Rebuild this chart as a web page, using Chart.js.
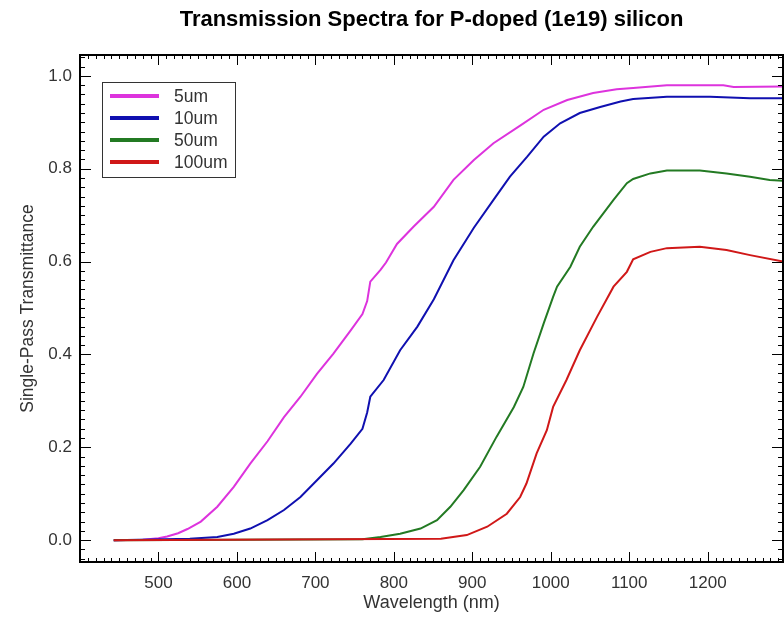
<!DOCTYPE html>
<html><head><meta charset="utf-8">
<script src="https://cdn.jsdelivr.net/npm/chart.js@4.4.0/dist/chart.umd.min.js"></script>
<style>html,body{margin:0;padding:0;background:#fff}#wrap{width:784px;height:624px}</style>
</head><body><div id="wrap"><canvas id="c" width="784" height="624"></canvas></div>
<script>
const titleText = 'Transmission Spectra for P-doped (1e19) silicon';
const xTitle = 'Wavelength (nm)';
const yTitle = 'Single-Pass Transmittance';
const seriesLabels = ['5um', '10um', '50um', '100um'];
const seriesColors = ['#dd33dd', '#1010b0', '#237a23', '#d01818'];

const wl5 = [443, 480, 500, 511, 525, 537, 554, 575, 596, 617, 639, 660, 681, 702, 723, 745, 760, 766, 770, 783, 790, 804, 825, 851, 876, 902, 927, 961, 991, 1021, 1054, 1084, 1105, 1148, 1220, 1233, 1296];
const t5 = [0, 0.001, 0.004, 0.008, 0.015, 0.024, 0.040, 0.072, 0.115, 0.165, 0.213, 0.265, 0.309, 0.358, 0.402, 0.452, 0.487, 0.515, 0.557, 0.582, 0.598, 0.638, 0.675, 0.718, 0.776, 0.819, 0.855, 0.893, 0.927, 0.948, 0.963, 0.971, 0.974, 0.980, 0.980, 0.976, 0.977];

const wl10 = [443, 540, 575, 596, 617, 639, 660, 681, 702, 723, 745, 760, 766, 770, 787, 808, 830, 851, 876, 902, 927, 948, 970, 991, 1012, 1037, 1063, 1089, 1105, 1148, 1203, 1254, 1296];
const t10 = [0, 0.003, 0.007, 0.014, 0.025, 0.043, 0.065, 0.093, 0.129, 0.165, 0.208, 0.240, 0.275, 0.309, 0.345, 0.409, 0.460, 0.519, 0.603, 0.673, 0.733, 0.783, 0.826, 0.869, 0.898, 0.920, 0.933, 0.945, 0.950, 0.955, 0.955, 0.952, 0.952];

const wl50 = [443, 760, 783, 808, 834, 855, 872, 889, 910, 931, 953, 965, 978, 991, 1003, 1008, 1025, 1037, 1054, 1080, 1097, 1105, 1127, 1148, 1190, 1224, 1254, 1279, 1296];
const t50 = [0, 0.002, 0.007, 0.014, 0.025, 0.043, 0.072, 0.108, 0.158, 0.223, 0.287, 0.330, 0.402, 0.467, 0.524, 0.546, 0.589, 0.632, 0.675, 0.733, 0.769, 0.778, 0.790, 0.796, 0.796, 0.790, 0.783, 0.776, 0.774];

const wl100 = [443, 860, 893, 919, 944, 961, 969, 982, 995, 1003, 1020, 1037, 1059, 1080, 1097, 1105, 1127, 1148, 1190, 1224, 1254, 1296];
const t100 = [0, 0.003, 0.011, 0.029, 0.057, 0.093, 0.122, 0.187, 0.237, 0.287, 0.345, 0.409, 0.481, 0.546, 0.578, 0.605, 0.621, 0.629, 0.632, 0.625, 0.614, 0.600];

const xTickValues = [500, 600, 700, 800, 900, 1000, 1100, 1200];
const yTickValues = [0, 0.2, 0.4, 0.6, 0.8, 1.0];

const wls = [wl5, wl10, wl50, wl100];
const ts = [t5, t10, t50, t100];
const FONT = '"Liberation Sans", Arial, sans-serif';

const datasets = seriesLabels.map((lab, i) => ({
  label: lab,
  data: wls[i].map((w, j) => ({x: w, y: ts[i][j]})),
  borderColor: seriesColors[i],
  backgroundColor: seriesColors[i],
  borderWidth: 2,
  pointRadius: 0,
  tension: 0,
  fill: false,
  order: 3 - i
}));

const framePlugin = {
  id: 'frame',
  afterDatasetsDraw(chart) {
    const {ctx, chartArea: a, scales: {x, y}} = chart;
    ctx.save();
    ctx.strokeStyle = '#000';
    ctx.lineWidth = 1;
    ctx.beginPath();
    for (let v = Math.ceil(x.min / 10) * 10; v <= x.max; v += 10) {
      const px = Math.round(x.getPixelForValue(v)) + 0.5;
      const L = (v % 100 === 0) ? 10 : 4;
      ctx.moveTo(px, a.bottom); ctx.lineTo(px, a.bottom - L);
      ctx.moveTo(px, a.top); ctx.lineTo(px, a.top + L);
    }
    for (let i = Math.ceil(y.min / 0.02); i * 0.02 <= y.max + 1e-9; i++) {
      const py = Math.round(y.getPixelForValue(i * 0.02)) + 0.5;
      const major = (i % 10 === 0);
      const L = major ? 11 : 5;
      ctx.moveTo(a.left, py); ctx.lineTo(a.left + L, py);
      ctx.moveTo(a.right, py); ctx.lineTo(a.right - L, py);
    }
    ctx.stroke();
    ctx.lineWidth = 2;
    ctx.strokeRect(a.left, a.top, a.right - a.left, a.bottom - a.top);
    ctx.restore();
  }
};

const legendPlugin = {
  id: 'boxLegend',
  afterDraw(chart) {
    const {ctx, chartArea: a} = chart;
    const bx = a.left + 22, by = a.top + 27, bw = 133, bh = 95;
    ctx.save();
    ctx.fillStyle = '#fff';
    ctx.fillRect(bx, by, bw, bh);
    ctx.strokeStyle = '#333';
    ctx.lineWidth = 1;
    ctx.strokeRect(bx + 0.5, by + 0.5, bw, bh);
    ctx.font = '17.5px ' + FONT;
    ctx.textBaseline = 'middle';
    ctx.textAlign = 'left';
    chart.data.datasets.forEach((ds, i) => {
      const ry = by + 14 + i * 22;
      ctx.strokeStyle = ds.borderColor;
      ctx.lineWidth = 4;
      ctx.beginPath();
      ctx.moveTo(bx + 8, ry); ctx.lineTo(bx + 57, ry);
      ctx.stroke();
      ctx.fillStyle = '#333';
      ctx.fillText(ds.label, bx + 72, ry + 1);
    });
    ctx.restore();
  }
};

new Chart(document.getElementById('c'), {
  type: 'line',
  data: {datasets},
  options: {
    responsive: false,
    animation: false,
    devicePixelRatio: 1,
    layout: {padding: {top: 0, left: 0, right: 1, bottom: 0}},
    plugins: {
      legend: {display: false},
      tooltip: {enabled: false},
      title: {
        display: true, text: titleText, fullSize: false, color: '#000',
        font: {family: FONT, size: 22, weight: 'bold'},
        padding: {top: 7, bottom: 21.6}
      }
    },
    scales: {
      x: {
        type: 'linear', min: 400, max: 1296,
        grid: {display: false, drawTicks: false},
        border: {display: false},
        afterBuildTicks: s => { s.ticks = xTickValues.map(v => ({value: v})); },
        afterFit: s => { s.height = 62; },
        ticks: {font: {family: FONT, size: 17}, color: '#333', padding: 11, maxRotation: 0, autoSkip: false,
                callback: v => String(v)},
        title: {display: true, text: xTitle, color: '#333', font: {family: FONT, size: 18}, padding: {top: 0, bottom: 10}}
      },
      y: {
        type: 'linear', min: -0.047, max: 1.045,
        grid: {display: false, drawTicks: false},
        border: {display: false},
        afterBuildTicks: s => { s.ticks = yTickValues.map(v => ({value: v})); },
        afterFit: s => { s.width = 80; },
        ticks: {font: {family: FONT, size: 17}, color: '#333', padding: 8, autoSkip: false,
                callback: v => Number(v).toFixed(1)},
        title: {display: true, text: yTitle, color: '#333', font: {family: FONT, size: 17.5}, padding: {top: 18, bottom: 0}}
      }
    }
  },
  plugins: [framePlugin, legendPlugin]
});
</script></body></html>
